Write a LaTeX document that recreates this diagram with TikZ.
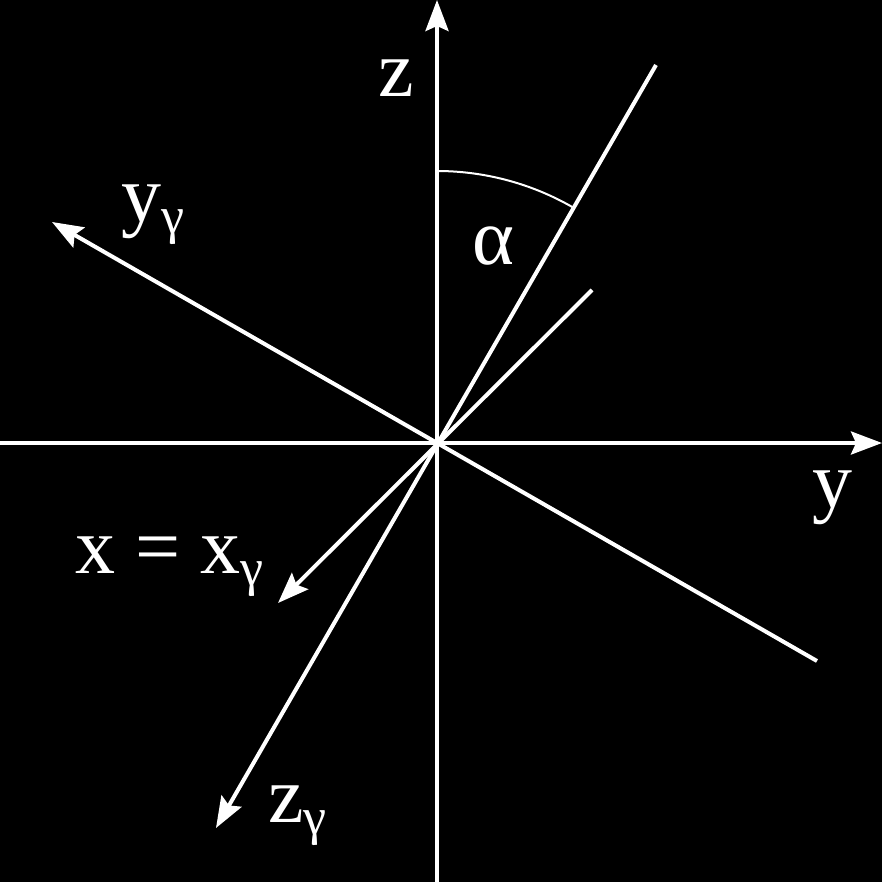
\documentclass[tikz,border=0pt]{standalone}
\usepackage{fontspec}
\setmainfont{Liberation Serif}
\usetikzlibrary{arrows.meta}
\newcommand\gsub{\raisebox{-12pt}{\fontsize{52}{60}\selectfont γ}}
\begin{document}
\begin{tikzpicture}[x=1pt,y=-1pt,
  axis/.style={white,line width=4pt},
  arr/.style={-{Stealth[length=31pt,width=23pt,inset=5pt]}},
  lbl/.style={white,anchor=base west,inner sep=0pt,font=\fontsize{80}{96}\selectfont}]
\fill[black] (0,0) rectangle (882,882);
\useasboundingbox (0,0) rectangle (882,882);
% coordinates
\coordinate (O) at (437,443);
\coordinate (Ztop) at (437,0);
\coordinate (Zbot) at (437,882);
\coordinate (Yleft) at (0,443);
\coordinate (Yright) at (882,443);
\coordinate (A) at (656,65);
\coordinate (Zg) at (216,828);
\coordinate (B) at (817,661);
\coordinate (Yg) at (52,222);
\coordinate (C) at (592,290);
\coordinate (Xg) at (278,603);
\coordinate (ArcStart) at (437,171);
% axes
\draw[axis,arr] (Zbot) -- (Ztop);
\draw[axis,arr] (Yleft) -- (Yright);
\draw[axis,arr] (A) -- (Zg);
\draw[axis,arr] (B) -- (Yg);
\draw[axis,arr] (C) -- (Xg);
% angle arc
\draw[white,line width=2pt] (ArcStart) arc[start angle=-90,end angle=-60,radius=272];
% labels
\node[lbl] (lz) at (378,97) {z};
\node[lbl] (ly) at (812,507) {y};
\node[lbl] (lyg) at (121,222) {y\gsub};
\node[lbl] (lal) at (472,265) {α};
\node[lbl] (lx) at (75,573) {x = x\gsub};
\node[lbl] (lzg) at (268,822) {z\gsub};
\end{tikzpicture}
\end{document}
